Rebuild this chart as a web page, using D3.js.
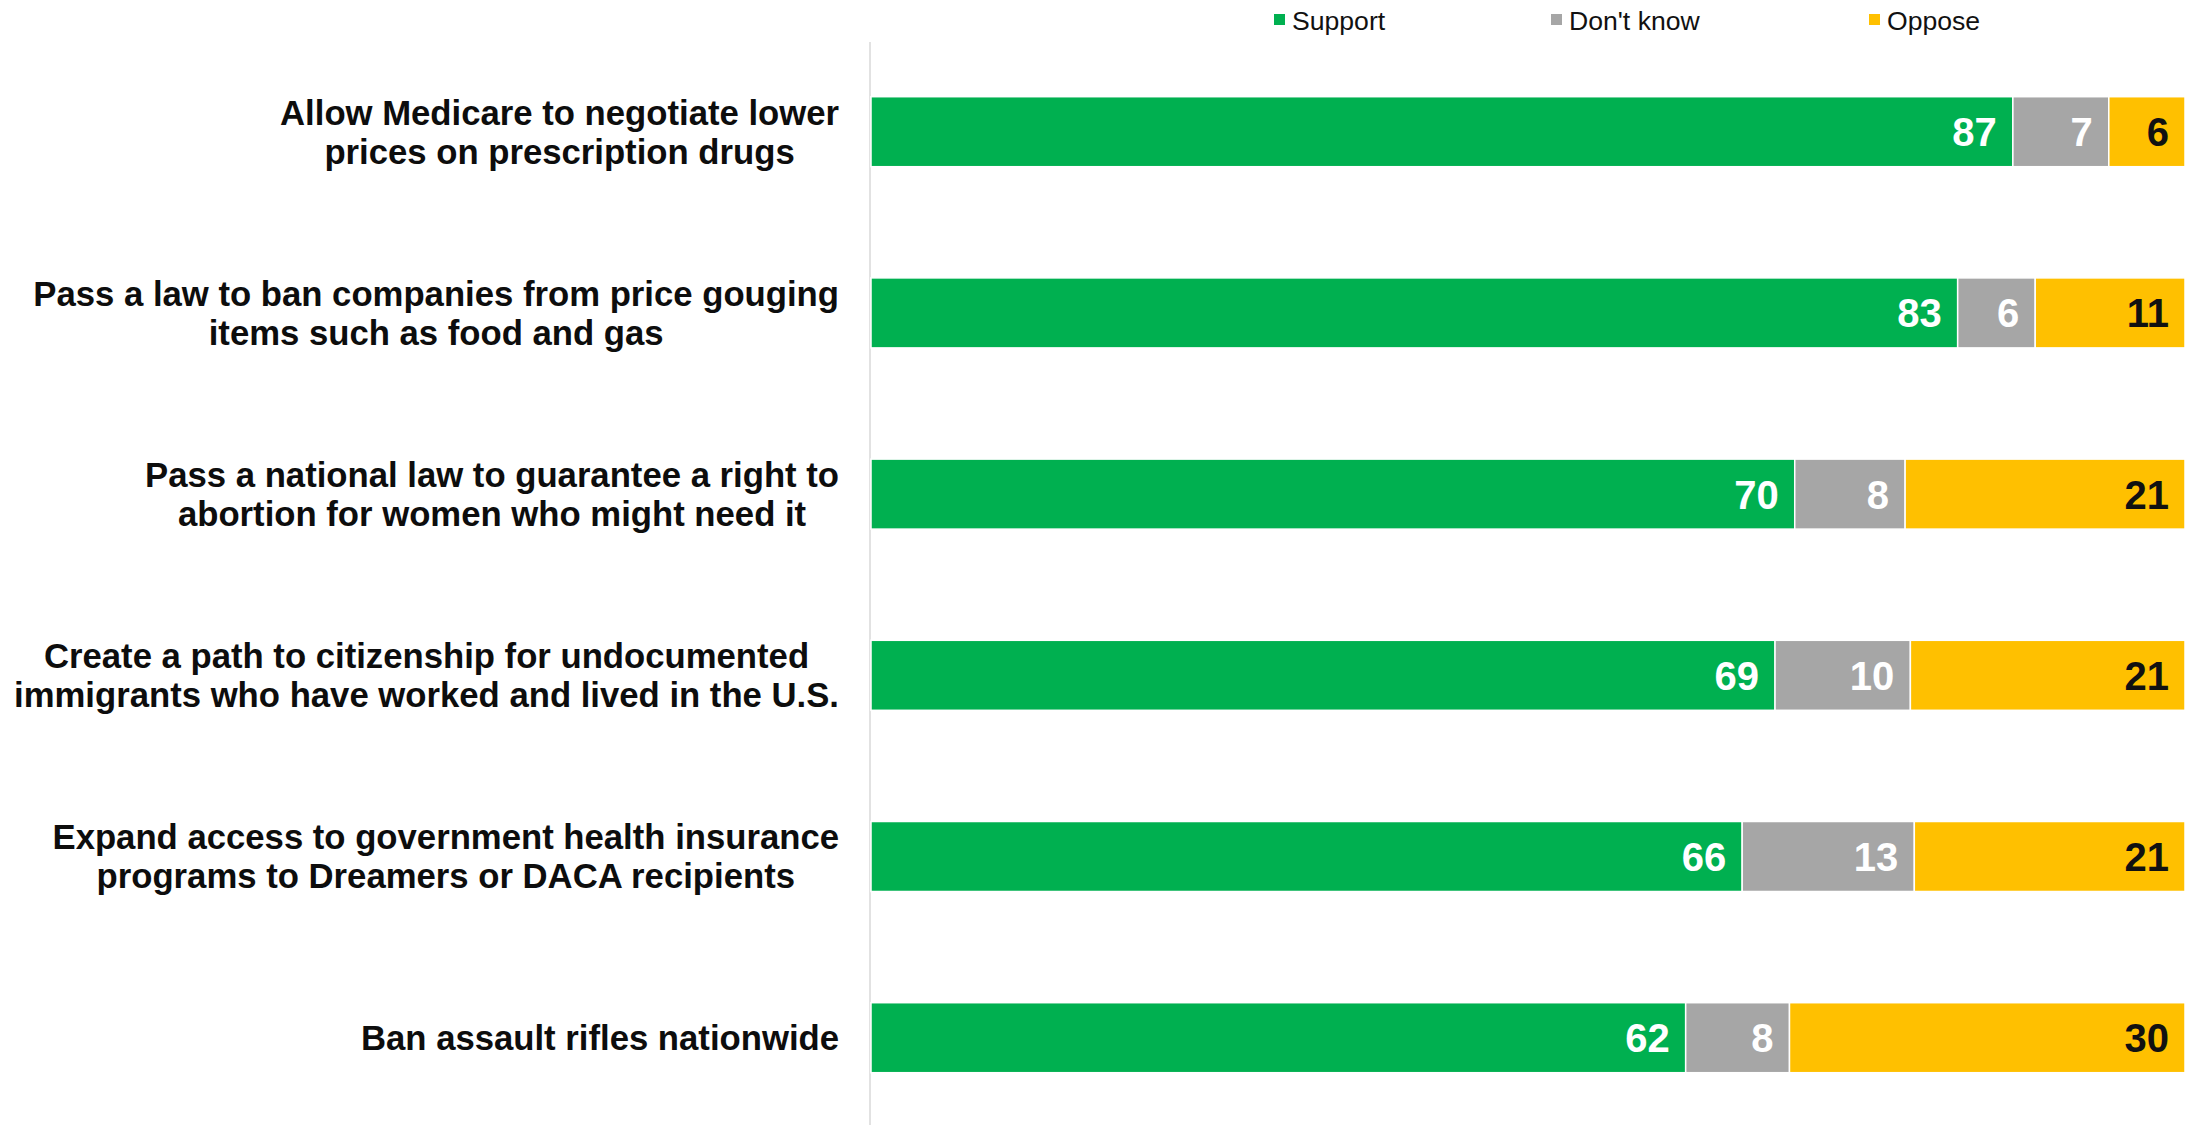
<!DOCTYPE html>
<html>
<head>
<meta charset="utf-8">
<script src="https://cdn.jsdelivr.net/npm/d3@7"></script>
<style>
  html, body { margin: 0; padding: 0; background: #fff; }
  svg { display: block; font-family: "Liberation Sans", Arial, sans-serif; }
</style>
</head>
<body>
<svg id="chart" width="2185" height="1125"></svg>
<script>
// ---- data ----
const categories = [
  ["Allow Medicare to negotiate lower", "prices on prescription drugs"],
  ["Pass a law to ban companies from price gouging", "items such as food and gas"],
  ["Pass a national law to guarantee a right to", "abortion for women who might need it"],
  ["Create a path to citizenship for undocumented", "immigrants who have worked and lived in the U.S."],
  ["Expand access to government health insurance", "programs to Dreamers or DACA recipients"],
  ["Ban assault rifles nationwide"]
];
const seriesNames = ["Support", "Don't know", "Oppose"];
const support  = [86.9, 82.7, 70.3, 68.8, 66.3, 62.0];
const dontKnow = [7.3, 5.9, 8.4, 10.3, 13.1, 7.9];
const oppose   = [5.8, 11.4, 21.3, 20.9, 20.6, 30.1];
const colors = ["#00B050", "#A6A6A6", "#FFC000"];
const labelColors = ["#ffffff", "#ffffff", "#111111"];

// ---- layout ----
const svg = d3.select("#chart");
const keys = categories.map((c, i) => "c" + i);
const y = d3.scaleBand().domain(keys).range([-14.5, 1183.9]).paddingInner(0.6137).paddingOuter(0.6137);
const x = d3.scaleLinear().domain([0, 100]).range([871, 2185]);

const rows = keys.map((k, i) => ({ key: k, values: [support[i], dontKnow[i], oppose[i]] }));

// axis line
svg.append("line")
  .attr("x1", x(0) - 1).attr("x2", x(0) - 1)
  .attr("y1", 42).attr("y2", 1125)
  .attr("stroke", "#d9d9d9").attr("stroke-width", 1.5);

// bars
rows.forEach(r => {
  let cum = 0;
  r.values.forEach((v, j) => {
    const x0 = x(cum), x1 = x(cum + v);
    cum += v;
    svg.append("rect")
      .attr("x", x0).attr("y", y(r.key))
      .attr("width", x1 - x0).attr("height", y.bandwidth())
      .attr("fill", colors[j])
      .attr("stroke", "#fff").attr("stroke-width", 1.5);
    svg.append("text")
      .attr("x", x1 - 16)
      .attr("y", y(r.key) + y.bandwidth() / 2)
      .attr("dy", "0.36em")
      .attr("text-anchor", "end")
      .attr("font-size", 40).attr("font-weight", "bold")
      .attr("fill", labelColors[j])
      .text(Math.round(v));
  });
});

// category labels (centered block, right aligned)
categories.forEach((lines, i) => {
  const g = svg.append("g");
  const cy = y(keys[i]) + y.bandwidth() / 2;
  const lh = 39;
  const t = g.append("text")
    .attr("font-size", 34.7).attr("font-weight", "bold").attr("fill", "#0d0d0d")
    .attr("text-anchor", "middle");
  lines.forEach((ln, k) => {
    t.append("tspan")
      .attr("x", 0)
      .attr("y", cy + (k - (lines.length - 1) / 2) * lh)
      .attr("dy", "0.36em")
      .text(ln);
  });
  let maxW = 0;
  t.selectAll("tspan").each(function() { maxW = Math.max(maxW, this.getComputedTextLength()); });
  g.attr("transform", `translate(${839 - maxW / 2},0)`);
});

// legend
const legendX = [1274, 1551, 1869];
seriesNames.forEach((name, j) => {
  svg.append("rect")
    .attr("x", legendX[j]).attr("y", 14)
    .attr("width", 11).attr("height", 11)
    .attr("fill", colors[j]);
  svg.append("text")
    .attr("x", legendX[j] + 18).attr("y", 20)
    .attr("dy", "0.36em")
    .attr("font-size", 26.6).attr("fill", "#111")
    .text(name);
});
</script>
</body>
</html>
